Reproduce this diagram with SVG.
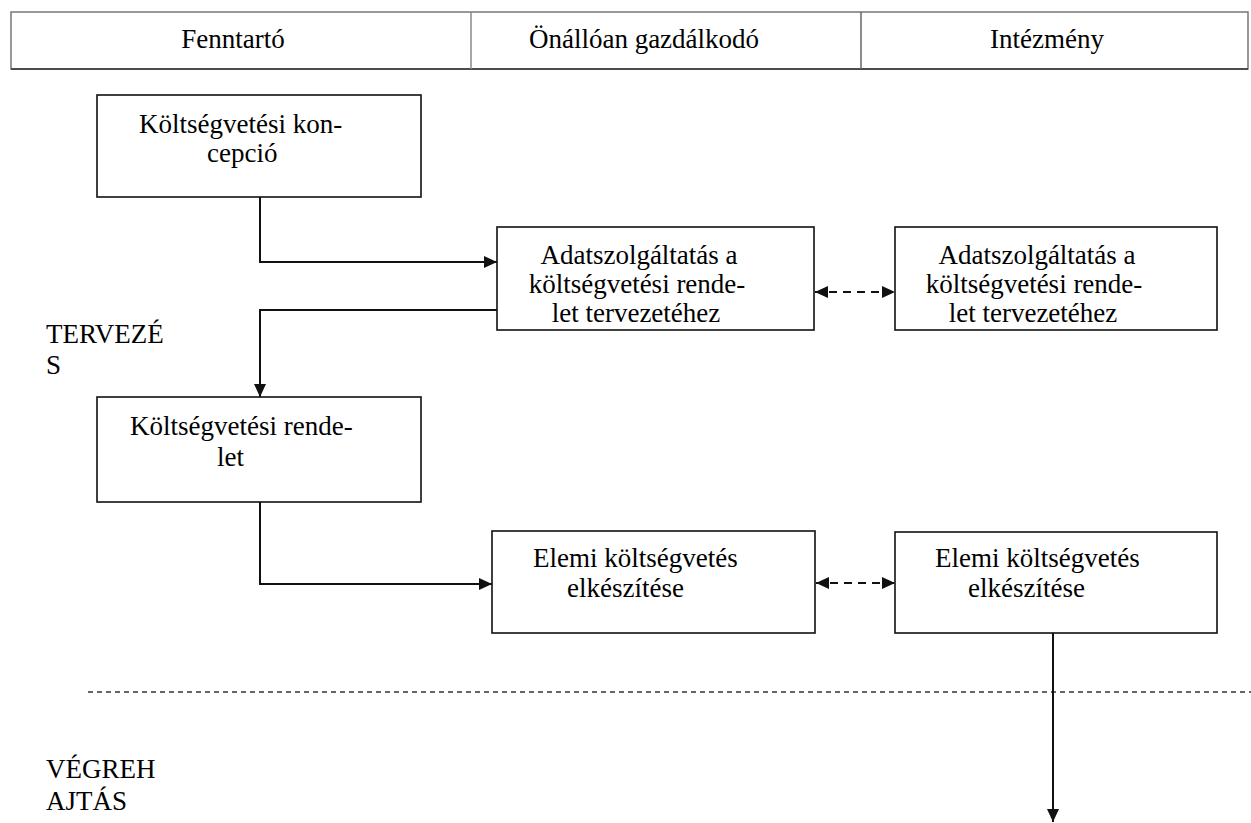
<svg xmlns="http://www.w3.org/2000/svg" width="1251" height="823" viewBox="0 0 1251 823">
<style>
text{font-family:"Liberation Serif","Times New Roman",serif;font-size:27px;fill:#000}
.box{fill:#fff;stroke:#111;stroke-width:1.6}
.conn{fill:none;stroke:#111;stroke-width:2}
.dash{fill:none;stroke:#111;stroke-width:2.2;stroke-dasharray:8,6}
.sep{fill:none;stroke:#333;stroke-width:1.6;stroke-dasharray:5,4}
.hdr{fill:#fff;stroke:#777;stroke-width:1.5}
.mid{text-anchor:middle}
</style>
<defs>
<marker id="arr" markerUnits="userSpaceOnUse" markerWidth="13" markerHeight="12" refX="13" refY="6" orient="auto-start-reverse" viewBox="0 0 13 12">
<path d="M0,0 L13,6 L0,12 z" fill="#111"/>
</marker>
</defs>
<rect width="1251" height="823" fill="#fff"/>
<g id="header">
<rect class="hdr" x="11" y="12" width="1237" height="57"/>
<line x1="11" y1="69" x2="1248" y2="69" stroke="#333" stroke-width="1.6"/>
<line x1="471" y1="12" x2="471" y2="69" stroke="#888" stroke-width="1.5"/>
<line x1="861" y1="12" x2="861" y2="69" stroke="#666" stroke-width="1.5"/>
<text class="mid" x="233" y="48">Fenntartó</text>
<text class="mid" x="644" y="48">Önállóan gazdálkodó</text>
<text class="mid" x="1047" y="48">Intézmény</text>
</g>
<g id="label-tervezes">
<text x="46" y="343">TERVEZÉ</text>
<text x="46" y="374">S</text>
</g>
<g id="label-vegrehajtas">
<text x="46" y="778">VÉGREH</text>
<text x="46" y="810">AJTÁS</text>
</g>
<g id="separator">
<line class="sep" x1="88" y1="692" x2="1251" y2="692"/>
</g>
<g id="n1">
<rect class="box" x="97" y="95" width="324" height="102"/>
<text x="139" y="133">Költségvetési kon-</text>
<text x="207" y="162">cepció</text>
</g>
<g id="n2">
<rect class="box" x="497" y="227" width="317" height="103"/>
<text class="mid" x="639" y="264">Adatszolgáltatás a</text>
<text class="mid" x="637" y="293">költségvetési rende-</text>
<text class="mid" x="636" y="322">let tervezetéhez</text>
</g>
<g id="n3">
<rect class="box" x="895" y="227" width="322" height="103"/>
<text class="mid" x="1037" y="264">Adatszolgáltatás a</text>
<text class="mid" x="1034" y="293">költségvetési rende-</text>
<text class="mid" x="1033" y="322">let tervezetéhez</text>
</g>
<g id="n4">
<rect class="box" x="97" y="397" width="324" height="105"/>
<text x="130" y="435">Költségvetési rende-</text>
<text x="217" y="466">let</text>
</g>
<g id="n5">
<rect class="box" x="492" y="531" width="323" height="102"/>
<text x="533" y="567">Elemi költségvetés</text>
<text x="567" y="597">elkészítése</text>
</g>
<g id="n6">
<rect class="box" x="895" y="532" width="322" height="101"/>
<text x="935" y="567">Elemi költségvetés</text>
<text x="968" y="597">elkészítése</text>
</g>
<g id="connectors">
<path class="conn" d="M260,197 V262 H497" marker-end="url(#arr)"/>
<path class="conn" d="M497,310 H260 V397" marker-end="url(#arr)"/>
<path class="conn" d="M260,502 V584 H492" marker-end="url(#arr)"/>
<line class="dash" x1="815" y1="292" x2="895" y2="292" marker-start="url(#arr)" marker-end="url(#arr)"/>
<line class="dash" x1="816" y1="583" x2="895" y2="583" marker-start="url(#arr)" marker-end="url(#arr)"/>
<line class="conn" x1="1053" y1="633" x2="1053" y2="822" marker-end="url(#arr)"/>
</g>
</svg>
